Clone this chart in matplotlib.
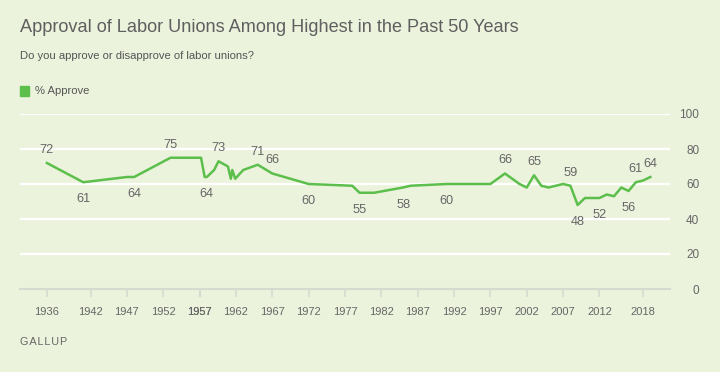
import matplotlib
matplotlib.use('Agg')
import matplotlib.pyplot as plt
from matplotlib.patches import Rectangle

# Gallup: "Do you approve or disapprove of labor unions?" (% approve)
years = [1936, 1941, 1947, 1948, 1953, 1957.2, 1957.7, 1958, 1959, 1959.6,
         1960.9, 1961.3, 1961.5, 1961.9, 1963, 1965, 1967, 1972, 1978, 1979,
         1981, 1985, 1986, 1991, 1997, 1999, 2001, 2002, 2003, 2004,
         2005, 2007, 2008, 2009, 2010, 2012, 2013, 2014, 2015, 2016,
         2017, 2018, 2019]
approve = [72, 61, 64, 64, 75, 75, 64, 64, 68, 73,
           70, 63, 68, 63, 68, 71, 66, 60, 59, 55,
           55, 58, 59, 60, 60, 66, 60, 58, 65, 59,
           58, 60, 59, 48, 52, 52, 54, 53, 58, 56,
           61, 62, 64]

# which points get a value label, and whether it sits above or below the line
label_years = [1936, 1941, 1948, 1953, 1958, 1959.6, 1965, 1967, 1972, 1979,
               1985, 1991, 1999, 2003, 2008, 2009, 2012, 2016, 2017, 2019]
label_above = [True, False, False, True, False, True, True, True, False, False,
               False, False, True, True, True, False, False, False, True, True]

x_ticks = [1936, 1942, 1947, 1952, 1957, 1957, 1962, 1967, 1972, 1977, 1982,
           1987, 1992, 1997, 2002, 2007, 2012, 2018]
y_ticks = [0, 20, 40, 60, 80, 100]

BG = '#ecf3dd'
GREEN = '#5cbf4c'
TEXT = '#666666'
FONT = 'Liberation Sans'

plt.rcParams['font.family'] = [FONT, 'DejaVu Sans']

fig = plt.figure(figsize=(7.2, 3.72), dpi=100, facecolor=BG)
W, H = 720.0, 372.0
ax = fig.add_axes([20 / W, 1 - 289 / H, 650 / W, 175 / H])
ax.set_facecolor(BG)

# gridlines
for v in y_ticks[1:]:
    ax.axhline(v, color='white', lw=1.6, zorder=1)

ax.plot(years, approve, color=GREEN, lw=1.8, zorder=3)

# value labels
for yr, above in zip(label_years, label_above):
    val = approve[years.index(yr)]
    off = 9.5 if above else -12.3
    ax.annotate(str(val), (yr, val), xytext=(0, off), textcoords='offset points',
                ha='center', va='center', fontsize=9.2, color=TEXT, zorder=4)

ax.set_xlim(1932.3, 2021.7)
ax.set_ylim(0, 100)

for s in ['top', 'left', 'right']:
    ax.spines[s].set_visible(False)
ax.spines['bottom'].set_color('#d6dbd0')
ax.spines['bottom'].set_linewidth(1.6)
ax.spines['bottom'].set_zorder(2)

ax.set_xticks(x_ticks)
ax.set_xticklabels([str(t) for t in x_ticks])
ax.tick_params(axis='x', length=6, width=1.2, color='#d6dbd0', pad=7,
               labelsize=8, labelcolor=TEXT)

ax.yaxis.tick_right()
ax.set_yticks(y_ticks)
ax.set_yticklabels([str(t) for t in y_ticks])
ax.tick_params(axis='y', length=0, pad=21, labelsize=8.5, labelcolor=TEXT)
for lbl in ax.get_yticklabels():
    lbl.set_horizontalalignment('right')

# header texts
fig.text(20 / W, 1 - 28 / H, 'Approval of Labor Unions Among Highest in the Past 50 Years',
         fontsize=13.1, color='#5f5f5f', va='center', ha='left')
fig.text(20 / W, 1 - 56 / H, 'Do you approve or disapprove of labor unions?',
         fontsize=8.1, color='#555555', va='center', ha='left')

# legend
fig.patches.append(Rectangle((20 / W, 1 - 96 / H), 9 / W, 10 / H,
                             transform=fig.transFigure, color=GREEN))
fig.text(35 / W, 1 - 91 / H, '% Approve', fontsize=8.1, color='#555555',
         va='center', ha='left')

fig.text(20 / W, 1 - 342 / H, 'G A L L U P'.replace(' ', '\u200a'), fontsize=7.8,
         color=TEXT, va='center', ha='left')

fig.savefig('out.png', dpi=100, facecolor=BG)
